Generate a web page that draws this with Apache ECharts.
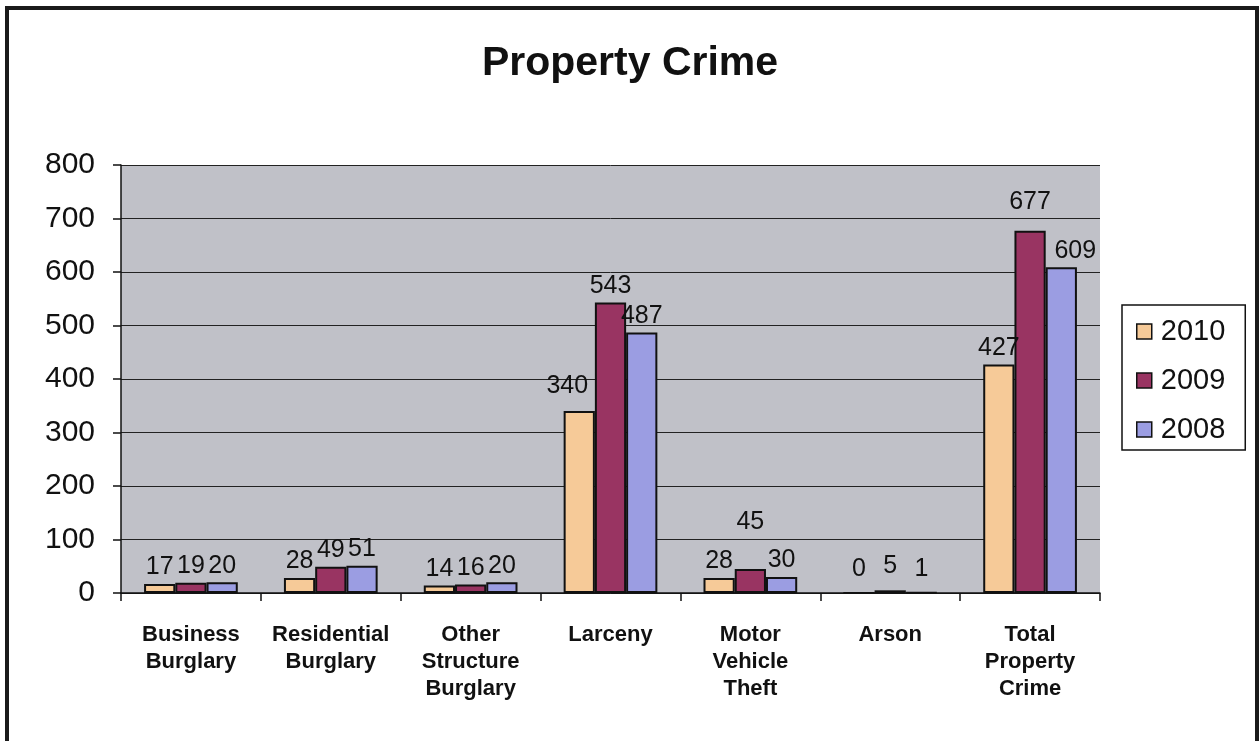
<!DOCTYPE html>
<html>
<head>
<meta charset="utf-8">
<title>Property Crime</title>
<script src="https://cdn.jsdelivr.net/npm/echarts@6/dist/echarts.min.js"></script>
<style>
  html, body { margin: 0; padding: 0; background: #ffffff; }
  #chart { width: 1260px; height: 741px; }
</style>
</head>
<body>
<div id="chart"></div>
<script>
// Offense categories on the x axis
var categories = [
  'Business\nBurglary',
  'Residential\nBurglary',
  'Other\nStructure\nBurglary',
  'Larceny',
  'Motor\nVehicle\nTheft',
  'Arson',
  'Total\nProperty\nCrime'
];

// Yearly counts per category
var years = ['2010', '2009', '2008'];
var counts2010 = [17, 28, 14, 340, 28, 0, 427];
var counts2009 = [19, 49, 16, 543, 45, 5, 677];
var counts2008 = [20, 51, 20, 487, 30, 1, 609];

// Value axis range
var yMin = 0, yMax = 800, yStep = 100;

var FONT = '"Liberation Sans", Arial, Helvetica, sans-serif';
var colors = ['#f6ca98', '#993462', '#9b9de2'];

// a few labels sit a little off their bar top
var labelShift = {
  '2010-3': [-12, -8],
  '2009-4': [0, -30],
  '2010-5': [0, -6],
  '2009-5': [0, -8],
  '2008-5': [0, -6],
  '2009-6': [0, -12],
  '2008-6': [14, 0]
};

function makeSeries(name, values, idx) {
  return {
    name: name,
    type: 'bar',
    data: values.map(function (v, i) {
      var item = { value: v };
      var s = labelShift[name + '-' + i];
      if (s) item.label = { offset: s };
      return item;
    }),
    barGap: '0%',
    barCategoryGap: '33%',
    itemStyle: { color: colors[idx], borderColor: '#111', borderWidth: 2 },
    label: {
      show: true,
      position: 'top',
      distance: 4,
      color: '#111',
      fontFamily: FONT,
      fontSize: 25
    },
    emphasis: { disabled: true }
  };
}

var chart = echarts.init(document.getElementById('chart'), null, { renderer: 'canvas' });

chart.setOption({
  animation: false,
  backgroundColor: '#ffffff',
  title: {
    text: 'Property Crime',
    left: 'center',
    top: 38,
    textStyle: { fontFamily: FONT, fontWeight: 'bold', fontSize: 41, color: '#111' }
  },
  legend: {
    data: years,
    orient: 'vertical',
    left: 1122,
    top: 305,
    padding: [12, 20, 6, 14],
    itemGap: 20,
    itemWidth: 15,
    itemHeight: 15,
    borderColor: '#111',
    borderWidth: 1.5,
    backgroundColor: '#ffffff',
    icon: 'rect',
    itemStyle: { borderColor: '#111', borderWidth: 1.5 },
    textStyle: { fontFamily: FONT, fontSize: 29, lineHeight: 28, color: '#111', padding: [0, 0, 0, 4] }
  },
  grid: {
    left: 121,
    right: 160,
    top: 165,
    bottom: 148,
    show: true,
    backgroundColor: '#c0c1c8',
    borderWidth: 0,
    containLabel: false
  },
  xAxis: {
    type: 'category',
    data: categories,
    axisLine: { show: true, lineStyle: { color: '#111', width: 1.5 } },
    axisTick: { show: true, length: 8, interval: 0, alignWithLabel: false, lineStyle: { color: '#111', width: 1.5 } },
    axisLabel: {
      interval: 0,
      margin: 28,
      color: '#111',
      fontFamily: FONT,
      fontWeight: 'bold',
      fontSize: 22,
      lineHeight: 27
    },
    splitLine: { show: false }
  },
  yAxis: {
    type: 'value',
    min: yMin,
    max: yMax,
    interval: yStep,
    axisLine: { show: true, lineStyle: { color: '#111', width: 1.5 } },
    axisTick: { show: true, length: 8, lineStyle: { color: '#111', width: 1.5 } },
    axisLabel: {
      margin: 26,
      color: '#111',
      fontFamily: FONT,
      fontSize: 30
    },
    splitLine: { show: true, lineStyle: { color: '#222', width: 1 } }
  },
  series: [
    makeSeries(years[0], counts2010, 0),
    makeSeries(years[1], counts2009, 1),
    makeSeries(years[2], counts2008, 2)
  ],
  graphic: [
    {
      type: 'rect',
      silent: true,
      z: 100,
      shape: { x: 7, y: 8, width: 1250, height: 760 },
      style: { fill: null, stroke: '#1a1a1a', lineWidth: 4 }
    }
  ]
});
</script>
</body>
</html>
